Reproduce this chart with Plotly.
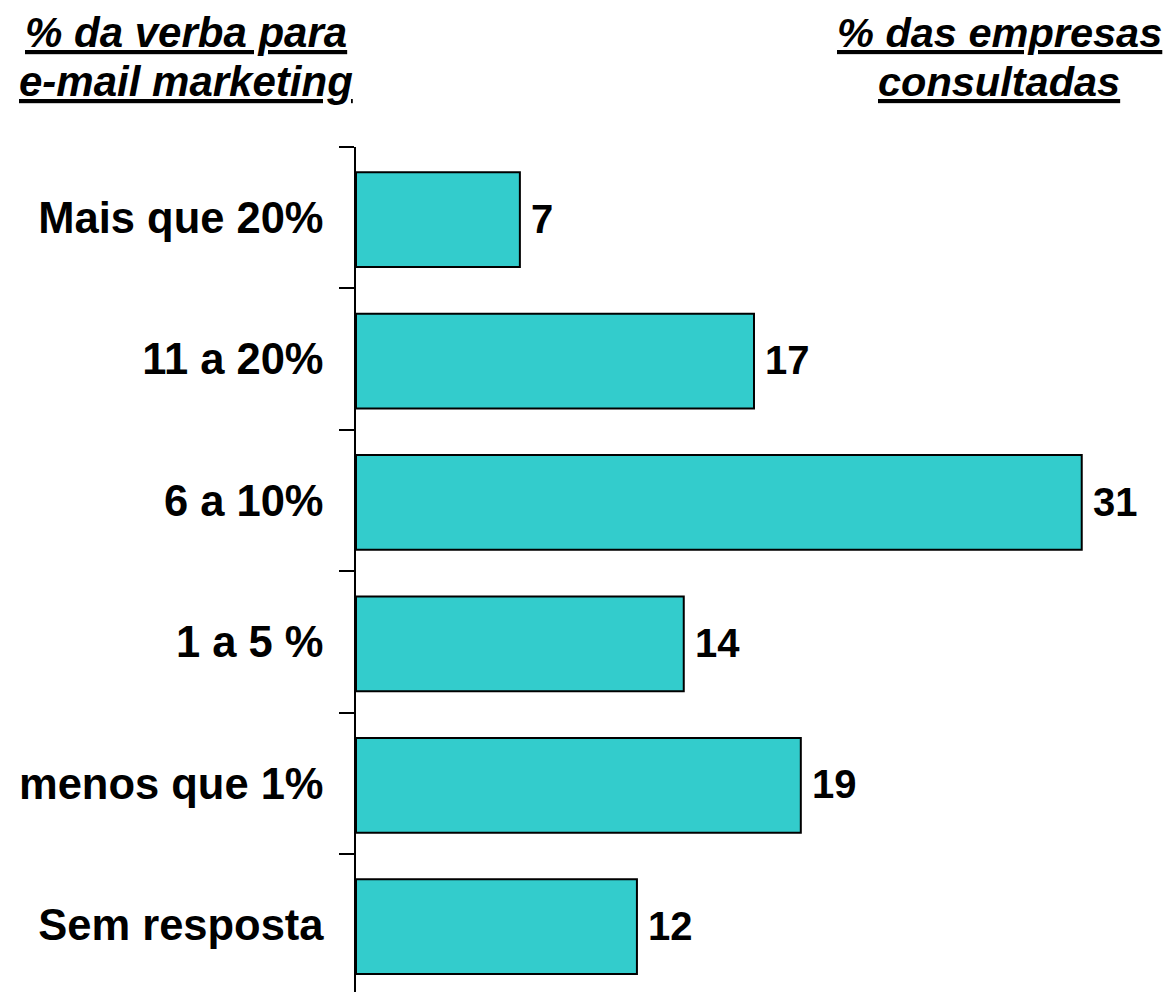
import plotly.graph_objects as go

categories = ["Mais que 20%", "11 a 20%", "6 a 10%", "1 a 5 %", "menos que 1%", "Sem resposta"]
values = [7, 17, 31, 14, 19, 12]
left_title = ["% da verba para", "e-mail marketing"]
right_title = ["% das empresas", "consultadas"]

OFF = 8  # default page body margin
W, H = 1173 - OFF, 1000
ML, MR, MT, MB = 356 - OFF, 14, 147 - OFF, 0
pw, ph = W - ML - MR, H - MT - MB

def px(x):
    return (x - OFF - ML) / pw

def py(y):
    return 1 - (y - OFF - MT) / ph

FONT = "Liberation Sans, Arial, sans-serif"

fig = go.Figure(
    go.Bar(
        x=values,
        y=categories,
        orientation="h",
        marker=dict(color="#33CCCC", line=dict(color="black", width=2)),
        cliponaxis=False,
        width=0.67,
        offset=-0.321,
    )
)

cat_px = 141.4
bottom_idx = -0.5 + ph / cat_px

annotations = []
for v, c in zip(values, categories):
    annotations.append(dict(
        x=v, y=c, xref="x", yref="y",
        text="<b>%d</b>" % v,
        xanchor="left", yanchor="middle", xshift=9, yshift=-1,
        showarrow=False,
        font=dict(family=FONT, size=40, color="black"),
    ))

def title_lines(lines, cx, ys, size):
    out = []
    for t, y in zip(lines, ys):
        out.append(dict(
            text="<b><i><u>%s</u></i></b>" % t,
            xref="paper", yref="paper",
            x=px(cx), y=py(y),
            xanchor="center", yanchor="middle",
            showarrow=False, align="center",
            font=dict(family=FONT, size=size, color="black"),
        ))
    return out

annotations += title_lines(left_title, 186, [33, 82], 42)
annotations += title_lines(right_title, 999, [33, 82], 41.5)

fig.update_layout(
    width=W,
    height=H,
    margin=dict(l=ML, r=MR, t=MT, b=MB, pad=0),
    plot_bgcolor="white",
    paper_bgcolor="white",
    showlegend=False,
    xaxis=dict(range=[0, 34.3], visible=False),
    yaxis=dict(
        type="category",
        categoryorder="array",
        categoryarray=categories,
        range=[bottom_idx, -0.5],
        tickson="boundaries",
        ticks="outside",
        ticklen=15,
        tickwidth=1.5,
        tickcolor="black",
        showline=True,
        linecolor="black",
        linewidth=1.5,
        showgrid=False,
        zeroline=False,
        automargin=False,
        ticklabelstandoff=22,
        tickfont=dict(family=FONT, size=43.5, color="black", weight="bold"),
    ),
    annotations=annotations,
)

fig.write_html("out.html")
